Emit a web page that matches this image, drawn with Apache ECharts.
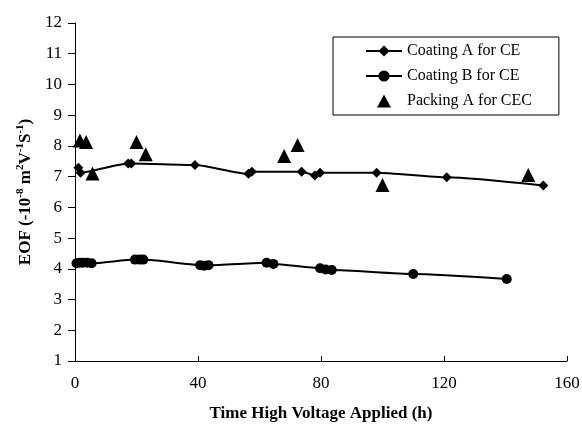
<!DOCTYPE html>
<html><head><meta charset="utf-8">
<script src="https://cdn.jsdelivr.net/npm/echarts@6/dist/echarts.min.js"></script>
<style>html,body{margin:0;padding:0;background:#fff}#c{width:582px;height:426px}</style>
</head><body><div id="c"></div>
<script>
var coatingA = [[1.1,7.29],[1.8,7.13],[17.3,7.43],[18.3,7.43],[39,7.38],[56.4,7.09],[57.5,7.16],[73.7,7.16],[78,7.04],[79.7,7.13],[98.1,7.13],[120.9,6.98],[152.3,6.71]];
var coatingB = [[0.5,4.18],[1.5,4.2],[2.5,4.2],[4,4.2],[5.4,4.18],[19.5,4.3],[21,4.3],[22.2,4.3],[40.7,4.12],[42,4.1],[43.4,4.12],[62.3,4.2],[64.5,4.16],[79.7,4.02],[81.5,3.98],[83.5,3.96],[110,3.83],[140.4,3.67]];
var packingA = [[1.6,8.18],[3.6,8.13],[5.7,7.1],[20,8.13],[23,7.73],[68,7.67],[72.4,8.03],[100,6.73],[147.4,7.05]];
var xTicks = [0,40,80,120,160];
var yTicks = [1,2,3,4,5,6,7,8,9,10,11,12];

var serif = 'Liberation Serif';
var chart = echarts.init(document.getElementById('c'));
chart.setOption({
  animation:false,
  backgroundColor:'#fff',
  grid:{left:75,right:15,top:23,bottom:65,outerBoundsMode:'none',containLabel:false},
  legend:{
    orient:'vertical', left:333, top:37,
    backgroundColor:'#fff', borderColor:'#000', borderWidth:1,
    padding:[6,27,6,32], itemGap:9, itemWidth:36, itemHeight:14,
    textStyle:{fontFamily:serif,fontSize:16,color:'#000'},
    data:['Coating A for CE','Coating B for CE',
      {name:'Packing A for CEC', icon:'path://M0,14L0,14M11,14L18,1L25,14ZM36,14L36,14', itemStyle:{color:'#000',borderWidth:0}}]
  },
  xAxis:{
    type:'value', min:xTicks[0], max:xTicks[xTicks.length-1], interval:40,
    name:'Time High Voltage Applied (h)', nameLocation:'middle', nameGap:44,
    nameTextStyle:{fontFamily:serif,fontSize:17,fontWeight:'bold',color:'#000'},
    axisLine:{lineStyle:{color:'#000',width:1}},
    axisTick:{inside:true,length:5,lineStyle:{color:'#000'}},
    axisLabel:{fontFamily:serif,fontSize:17,color:'#000',margin:14},
    splitLine:{show:false}
  },
  yAxis:{
    type:'value', min:yTicks[0], max:yTicks[yTicks.length-1], interval:1,
    name:'EOF (-10{s|-8} m{s|2}V{s|-1}S{s|-1})', nameLocation:'middle', nameGap:37,
    nameTextStyle:{fontFamily:serif,fontSize:17,fontWeight:'bold',color:'#000',
      rich:{s:{fontFamily:serif,fontSize:11,fontWeight:'bold',color:'#000',verticalAlign:'top',lineHeight:22}}},
    axisLine:{show:true,lineStyle:{color:'#000',width:1}},
    axisTick:{show:true,length:7,lineStyle:{color:'#000'}},
    axisLabel:{fontFamily:serif,fontSize:17,color:'#000',margin:13},
    splitLine:{show:false}
  },
  series:[
    {name:'Coating A for CE',type:'line',data:coatingA,smooth:0.2,smoothMonotone:'x',symbol:'diamond',symbolSize:10,
     lineStyle:{color:'#000',width:2},itemStyle:{color:'#000',opacity:1}},
    {name:'Coating B for CE',type:'line',data:coatingB,smooth:0.2,smoothMonotone:'x',symbol:'circle',symbolSize:10,
     lineStyle:{color:'#000',width:2},itemStyle:{color:'#000',opacity:1}},
    {name:'Packing A for CEC',type:'scatter',data:packingA,symbol:'triangle',symbolSize:14,
     itemStyle:{color:'#000',opacity:1}}
  ]
});
</script></body></html>
